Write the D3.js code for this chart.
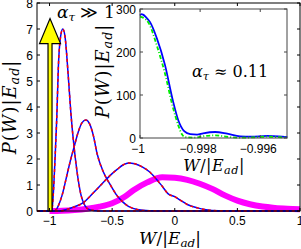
<!DOCTYPE html>
<html>
  <head>
    <meta charset="utf-8">
    <title>Work distribution</title>
    <script src="https://cdn.jsdelivr.net/npm/d3@7"></script>
    <style>
      body { margin: 0; background: #fff; }
      svg { display: block; }
      .tick-label { font-family: "Liberation Sans", Arial, sans-serif; font-size: 12px; fill: #000; }
      .math { font-family: "DejaVu Serif", "Liberation Serif", serif; fill: #000; }
    </style>
  </head>

  <body>
    <div id="chart"></div>

    <script>
      // main axis ticks
      xTicks = [-1, -0.5, 0, 0.5, 1];
      xTickLabels = ["\u22121", "\u22120.5", "0", "0.5", "1"];
      yTicks = [0, 1, 2, 3, 4, 5, 6, 7, 8];
      yTickLabels = ["0", "1", "2", "3", "4", "5", "6", "7", "8"];

      // inset axis ticks
      insetXTicks = [-1, -0.998, -0.996];
      insetXTickLabels = ["\u22121", "\u22120.998", "\u22120.996"];
      insetYTicks = [0, 100, 200, 300];
      insetYTickLabels = ["0", "100", "200", "300"];

      // main curves, [W/|Ead|, P(W)|Ead|]
      curve1 = [[-1.1, 0], [-0.982, 0], [-0.972, 0.5], [-0.956, 2.0], [-0.942, 3.6], [-0.929, 5.6],
        [-0.912, 6.7], [-0.894, 7.0], [-0.876, 6.7], [-0.852, 5.3], [-0.83, 3.8], [-0.804, 2.46],
        [-0.78, 1.5], [-0.748, 0.6], [-0.716, 0.2], [-0.68, 0.05], [-0.6, 0], [1, 0]];
      curve2 = [[-1.1, 0], [-0.96, 0], [-0.93, 0.2], [-0.9, 0.6], [-0.86, 1.4], [-0.83, 2.0],
        [-0.804, 2.46], [-0.77, 3.05], [-0.74, 3.4], [-0.71, 3.5], [-0.68, 3.35], [-0.65, 2.9],
        [-0.62, 2.2], [-0.57, 1.5], [-0.52, 1.05], [-0.47, 0.65], [-0.42, 0.37], [-0.37, 0.18],
        [-0.3, 0.06], [-0.2, 0.01], [-0.1, 0], [1, 0]];
      curve3 = [[-1.1, 0], [-0.92, 0], [-0.85, 0.08], [-0.78, 0.2], [-0.73, 0.32], [-0.68, 0.55],
        [-0.62, 0.85], [-0.56, 1.15], [-0.52, 1.35], [-0.46, 1.6], [-0.41, 1.78], [-0.37, 1.85],
        [-0.32, 1.82], [-0.26, 1.7], [-0.2, 1.5], [-0.155, 1.27], [-0.1, 0.95], [-0.05, 0.65],
        [0, 0.55], [0.05, 0.4], [0.1, 0.25], [0.18, 0.12], [0.25, 0.05], [0.35, 0.01], [0.5, 0], [1, 0]];
      magenta = [[-1, 0], [-0.9, 0.01], [-0.8, 0.04], [-0.7, 0.09], [-0.6, 0.17], [-0.5, 0.3],
        [-0.4, 0.55], [-0.33, 0.8], [-0.22, 1.1], [-0.1, 1.3], [0, 1.28], [0.1, 1.2], [0.2, 1.05],
        [0.3, 0.85], [0.4, 0.6], [0.5, 0.4], [0.6, 0.26], [0.7, 0.17], [0.8, 0.12], [0.9, 0.09], [1, 0.07]];

      // delta peak at the ground state
      arrowW = -1;
      arrowTop = 7.4;

      // inset curves
      insetBlue = [[-1, 285], [-0.99995, 288], [-0.9999, 287], [-0.9998, 281], [-0.99967, 270],
        [-0.99944, 232], [-0.99917, 170], [-0.99891, 88], [-0.99873, 42], [-0.99853, 16],
        [-0.99833, 9], [-0.9981, 8], [-0.9979, 11], [-0.9975, 14], [-0.9971, 10], [-0.99667, 4],
        [-0.9963, 3], [-0.99577, 5], [-0.9954, 4], [-0.9951, 2]];
      insetGreen = [[-1, 282], [-0.9999, 280], [-0.9997, 266], [-0.99944, 215], [-0.99917, 150],
        [-0.9989, 70], [-0.99873, 30], [-0.9986, 8], [-0.9985, 2], [-0.9982, 1], [-0.9978, 5],
        [-0.9975, 6], [-0.9972, 4], [-0.9968, 1], [-0.9965, 1], [-0.9961, 2], [-0.9958, 3],
        [-0.9954, 2], [-0.9951, 1]];

      width = 301;
      height = 249;

      svg = d3.select("#chart")
        .append("svg")
          .attr("width", width)
          .attr("height", height);

      // main scales
      x = d3.scaleLinear().domain([-1.1, 1]).range([37, 300]);
      y = d3.scaleLinear().domain([0, 8]).range([211, 3]);

      line = d3.line()
        .x(function(d) { return x(d[0]); })
        .y(function(d) { return y(d[1]); })
        .curve(d3.curveMonotoneX);

      // magenta broad curve underneath
      svg.append("path")
        .datum(magenta)
        .attr("d", line)
        .attr("fill", "none")
        .attr("stroke", "#ff00ff")
        .attr("stroke-width", 6);

      // blue solid with red dashes on top
      [curve1, curve2, curve3].forEach(function(c) {
        svg.append("path")
          .datum(c)
          .attr("d", line)
          .attr("fill", "none")
          .attr("stroke", "#0000ff")
          .attr("stroke-width", 1.5);
        svg.append("path")
          .datum(c)
          .attr("d", line)
          .attr("fill", "none")
          .attr("stroke", "#ff0000")
          .attr("stroke-width", 1.5)
          .attr("stroke-dasharray", "3,3");
      });

      // yellow arrow
      ax = x(arrowW) + 0.5;
      headBase = y(arrowTop) + 25;
      svg.append("path")
        .attr("d", "M" + (ax - 2) + "," + y(0)
          + "L" + (ax - 2) + "," + headBase
          + "L" + (ax - 10.5) + "," + headBase
          + "L" + ax + "," + y(arrowTop)
          + "L" + (ax + 10.5) + "," + headBase
          + "L" + (ax + 2) + "," + headBase
          + "L" + (ax + 2) + "," + y(0) + "Z")
        .attr("fill", "#ffff00")
        .attr("stroke", "#000")
        .attr("stroke-width", 1.2)
        .attr("stroke-linejoin", "miter");

      // main frame and ticks
      drawFrame(svg, x, y, xTicks, yTicks, "#000");

      svg.selectAll(".xlab")
        .data(xTicks)
        .enter().append("text")
          .attr("class", "tick-label")
          .attr("x", function(d) { return x(d); })
          .attr("y", 225)
          .attr("text-anchor", "middle")
          .text(function(d, i) { return xTickLabels[i]; });
      svg.selectAll(".ylab")
        .data(yTicks)
        .enter().append("text")
          .attr("class", "tick-label")
          .attr("x", 33)
          .attr("y", function(d) { return y(d) + 4.5; })
          .attr("text-anchor", "end")
          .text(function(d, i) { return yTickLabels[i]; });

      // main axis titles
      mathLabel(svg, "W/|E_ad|", 170, 244, 0, 17, 0);
      mathLabel(svg, "P(W)|E_ad|", 16, 107, -90, 18, 1);

      // alpha label
      alphaLabel(svg, " \u226B 1", 57, 18, 17);

      // inset
      ix = d3.scaleLinear().domain([-1, -0.99511]).range([140, 287]);
      iy = d3.scaleLinear().domain([0, 300]).range([138, 9]);

      svg.append("rect")
        .attr("x", 140)
        .attr("y", 9)
        .attr("width", 147)
        .attr("height", 129)
        .attr("fill", "#fff");

      iline = d3.line()
        .x(function(d) { return ix(d[0]); })
        .y(function(d) { return iy(d[1]); })
        .curve(d3.curveMonotoneX);

      svg.append("path")
        .datum(insetBlue)
        .attr("d", iline)
        .attr("fill", "none")
        .attr("stroke", "#0000ff")
        .attr("stroke-width", 1.8);
      svg.append("path")
        .datum(insetGreen)
        .attr("d", iline)
        .attr("fill", "none")
        .attr("stroke", "#00ee00")
        .attr("stroke-width", 1.8)
        .attr("stroke-dasharray", "4,2,1,2");

      drawFrame(svg, ix, iy, insetXTicks, insetYTicks, "#444");

      svg.selectAll(".ixlab")
        .data(insetXTicks)
        .enter().append("text")
          .attr("class", "tick-label")
          .attr("x", function(d) { return ix(d) - 2; })
          .attr("y", 153)
          .attr("text-anchor", "middle")
          .text(function(d, i) { return insetXTickLabels[i]; });
      svg.selectAll(".iylab")
        .data(insetYTicks)
        .enter().append("text")
          .attr("class", "tick-label")
          .attr("x", 136)
          .attr("y", function(d) { return iy(d) + 4.5; })
          .attr("text-anchor", "end")
          .text(function(d, i) { return insetYTickLabels[i]; });

      mathLabel(svg, "W/|E_ad|", 214, 171, 0, 16, 0.5);
      mathLabel(svg, "P(W)|E_ad|", 109, 71, -90, 18, 1);
      alphaLabel(svg, " \u2248 0.11", 192, 77, 16);

      // draws box with inward ticks on all four sides
      function drawFrame(g, sx, sy, tx, ty, color) {
        let x0 = sx.range()[0], x1 = sx.range()[1];
        let y0 = sy.range()[0], y1 = sy.range()[1];
        let t = 3;
        g.append("rect")
          .attr("x", x0)
          .attr("y", y1)
          .attr("width", x1 - x0)
          .attr("height", y0 - y1)
          .attr("fill", "none")
          .attr("stroke", color)
          .attr("stroke-width", 1);
        tx.forEach(function(d) {
          g.append("line").attr("x1", sx(d)).attr("x2", sx(d)).attr("y1", y0).attr("y2", y0 - t).attr("stroke", color);
          g.append("line").attr("x1", sx(d)).attr("x2", sx(d)).attr("y1", y1).attr("y2", y1 + t).attr("stroke", color);
        });
        ty.forEach(function(d) {
          g.append("line").attr("y1", sy(d)).attr("y2", sy(d)).attr("x1", x0).attr("x2", x0 + t).attr("stroke", color);
          g.append("line").attr("y1", sy(d)).attr("y2", sy(d)).attr("x1", x1).attr("x2", x1 - t).attr("stroke", color);
        });
      }

      // latex-like label: italic letters, upright symbols, "_ad" subscript
      function mathLabel(g, str, cx, cy, rot, size, spacing) {
        let t = g.append("text")
          .attr("class", "math")
          .attr("text-anchor", "middle")
          .attr("font-size", size)
          .attr("letter-spacing", spacing)
          .attr("transform", "translate(" + cx + "," + cy + ") rotate(" + rot + ")");
        let parts = str.split("_");
        let main = parts[0];
        let rest = parts[1];
        main.split("").forEach(function(ch) {
          t.append("tspan")
            .attr("font-style", /[A-Za-z]/.test(ch) ? "italic" : "normal")
            .text(ch);
        });
        t.append("tspan")
          .attr("font-style", "italic")
          .attr("font-size", size * 0.7)
          .attr("dy", 2.5)
          .text(rest.slice(0, 2));
        t.append("tspan")
          .attr("dy", -2.5)
          .text(rest.slice(2));
      }

      function alphaLabel(g, rest, lx, ly, size) {
        let t = g.append("text")
          .attr("class", "math")
          .attr("x", lx)
          .attr("y", ly)
          .attr("font-size", size);
        t.append("tspan").attr("font-style", "italic").text("\u03B1");
        t.append("tspan").attr("font-style", "italic").attr("font-size", size * 0.7).attr("dy", 3).text("\u03C4");
        t.append("tspan").attr("dy", -3).text(rest);
      }
    </script>
  </body>
</html>
